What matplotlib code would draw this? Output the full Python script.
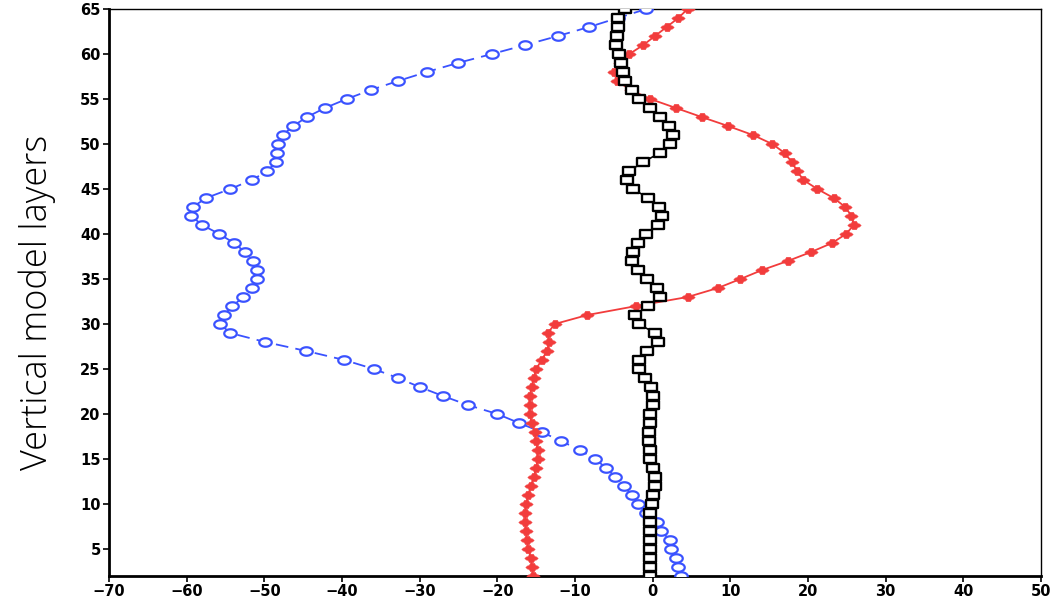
import matplotlib
matplotlib.use("Agg")
import matplotlib.pyplot as plt
from matplotlib.path import Path
import numpy as np

# Vertical layers (2..65)
layers = list(range(2, 66))

# Blue series (open circles, dashed), layers 2..65
blue_vals = [3.7, 3.3, 3.0, 2.4, 2.2, 1.1, 0.5, -0.9, -1.9, -2.7,
             -3.7, -4.8, -6.0, -7.4, -9.4, -11.8, -14.3, -17.2, -20.0, -23.8,
             -27.0, -30.0, -32.8, -35.9, -39.7, -44.6, -49.9, -54.4, -55.7, -55.2,
             -54.1, -52.7, -51.6, -51.0, -50.9, -51.5, -52.5, -53.9, -55.8, -58.0,
             -59.4, -59.2, -57.5, -54.4, -51.6, -49.6, -48.5, -48.4, -48.3, -47.6,
             -46.3, -44.5, -42.2, -39.4, -36.3, -32.8, -29.1, -25.1, -20.7, -16.4,
             -12.2, -8.2, -4.5, -0.8]

# Red series (filled markers, solid), layers 2..65
red_vals = [-15.4, -15.5, -15.7, -16.0, -16.2, -16.3, -16.4, -16.4, -16.3, -16.0,
            -15.7, -15.3, -15.0, -14.8, -14.8, -15.0, -15.2, -15.6, -15.8, -15.8,
            -15.8, -15.6, -15.3, -15.0, -14.3, -13.6, -13.3, -13.5, -12.6, -8.4,
            -2.1, 4.5, 8.4, 11.3, 14.1, 17.4, 20.4, 23.1, 24.9, 25.9,
            25.6, 24.8, 23.3, 21.2, 19.4, 18.6, 17.9, 17.0, 15.4, 12.9,
            9.7, 6.3, 3.0, -0.3, -2.8, -4.6, -5.0, -4.2, -3.0, -1.2,
            0.3, 1.8, 3.3, 4.5]

# Black series (open squares, solid), layers 2..65
black_vals = [-0.4, -0.4, -0.4, -0.4, -0.4, -0.4, -0.4, -0.3, -0.1, 0.1,
              0.3, 0.3, 0.0, -0.3, -0.4, -0.5, -0.5, -0.4, -0.3, 0.0,
              0.0, -0.2, -1.0, -1.8, -1.7, -0.7, 0.7, 0.3, -1.8, -2.3,
              -0.6, 0.9, 0.5, -0.7, -1.9, -2.6, -2.5, -1.9, -0.8, 0.7,
              1.2, 0.8, -0.6, -2.5, -3.3, -3.0, -1.2, 0.9, 2.2, 2.6,
              2.1, 0.9, -0.4, -1.7, -2.7, -3.5, -3.8, -4.1, -4.3, -4.7,
              -4.6, -4.5, -4.5, -3.6]

x_ticks = [-70, -60, -50, -40, -30, -20, -10, 0, 10, 20, 30, 40, 50]
y_ticks = [5, 10, 15, 20, 25, 30, 35, 40, 45, 50, 55, 60, 65]

# custom flattened markers
t = np.linspace(0, 2 * np.pi, 41)
ellipse = Path(np.column_stack([np.cos(t), 0.68 * np.sin(t)]), closed=True)
rect = Path([(-1, -0.68), (1, -0.68), (1, 0.68), (-1, 0.68), (-1, -0.68)], closed=True)
blob = Path([(-1, 0), (-0.7, 0.25), (-0.5, 0.25), (-0.3, 0.6), (0.3, 0.6), (0.5, 0.25),
             (0.7, 0.25), (1, 0), (0.7, -0.25), (0.5, -0.25), (0.3, -0.6),
             (-0.3, -0.6), (-0.5, -0.25), (-0.7, -0.25), (-1, 0)], closed=True)

fig = plt.figure(figsize=(10.63, 6.03), dpi=100)
ax = fig.add_axes([109 / 1063, 1 - 576 / 603, (1041 - 109) / 1063, (576 - 9) / 603])

blue = "#3a52ff"
red = "#f23c3c"

ax.plot(blue_vals, layers, color=blue, lw=1.3, linestyle=(0, (7, 4)),
        marker=ellipse, ms=9, mfc="white", mec=blue, mew=1.6, zorder=3)
ax.plot(red_vals, layers, color=red, lw=1.3, linestyle="-",
        marker=blob, ms=9.5, mfc=red, mec=red, mew=0.5, zorder=3)
ax.plot(black_vals, layers, color="black", lw=1.2, linestyle="-",
        marker=rect, ms=8.5, mfc="white", mec="black", mew=1.7, zorder=4)

ax.set_xlim(-70, 50)
ax.set_ylim(2, 65)
ax.set_xticks(x_ticks)
ax.set_yticks(y_ticks)
ax.set_xticklabels([("\u2212" + str(-v)) if v < 0 else str(v) for v in x_ticks])
ax.tick_params(direction="out", length=4, width=1.2, labelsize=10.5, pad=2)
for lab in ax.get_xticklabels() + ax.get_yticklabels():
    lab.set_fontweight("bold")
    lab.set_family(["DejaVu Sans"])

for s in ["left", "bottom"]:
    ax.spines[s].set_linewidth(2.0)
for s in ["top", "right"]:
    ax.spines[s].set_linewidth(1.0)

ax.set_ylabel("Vertical model layers", fontsize=26, family=["Open Sans", "DejaVu Sans"],
              fontweight=300, color="black")
ax.yaxis.set_label_coords(-0.057, 0.483)

fig.savefig("out.png", dpi=100)
